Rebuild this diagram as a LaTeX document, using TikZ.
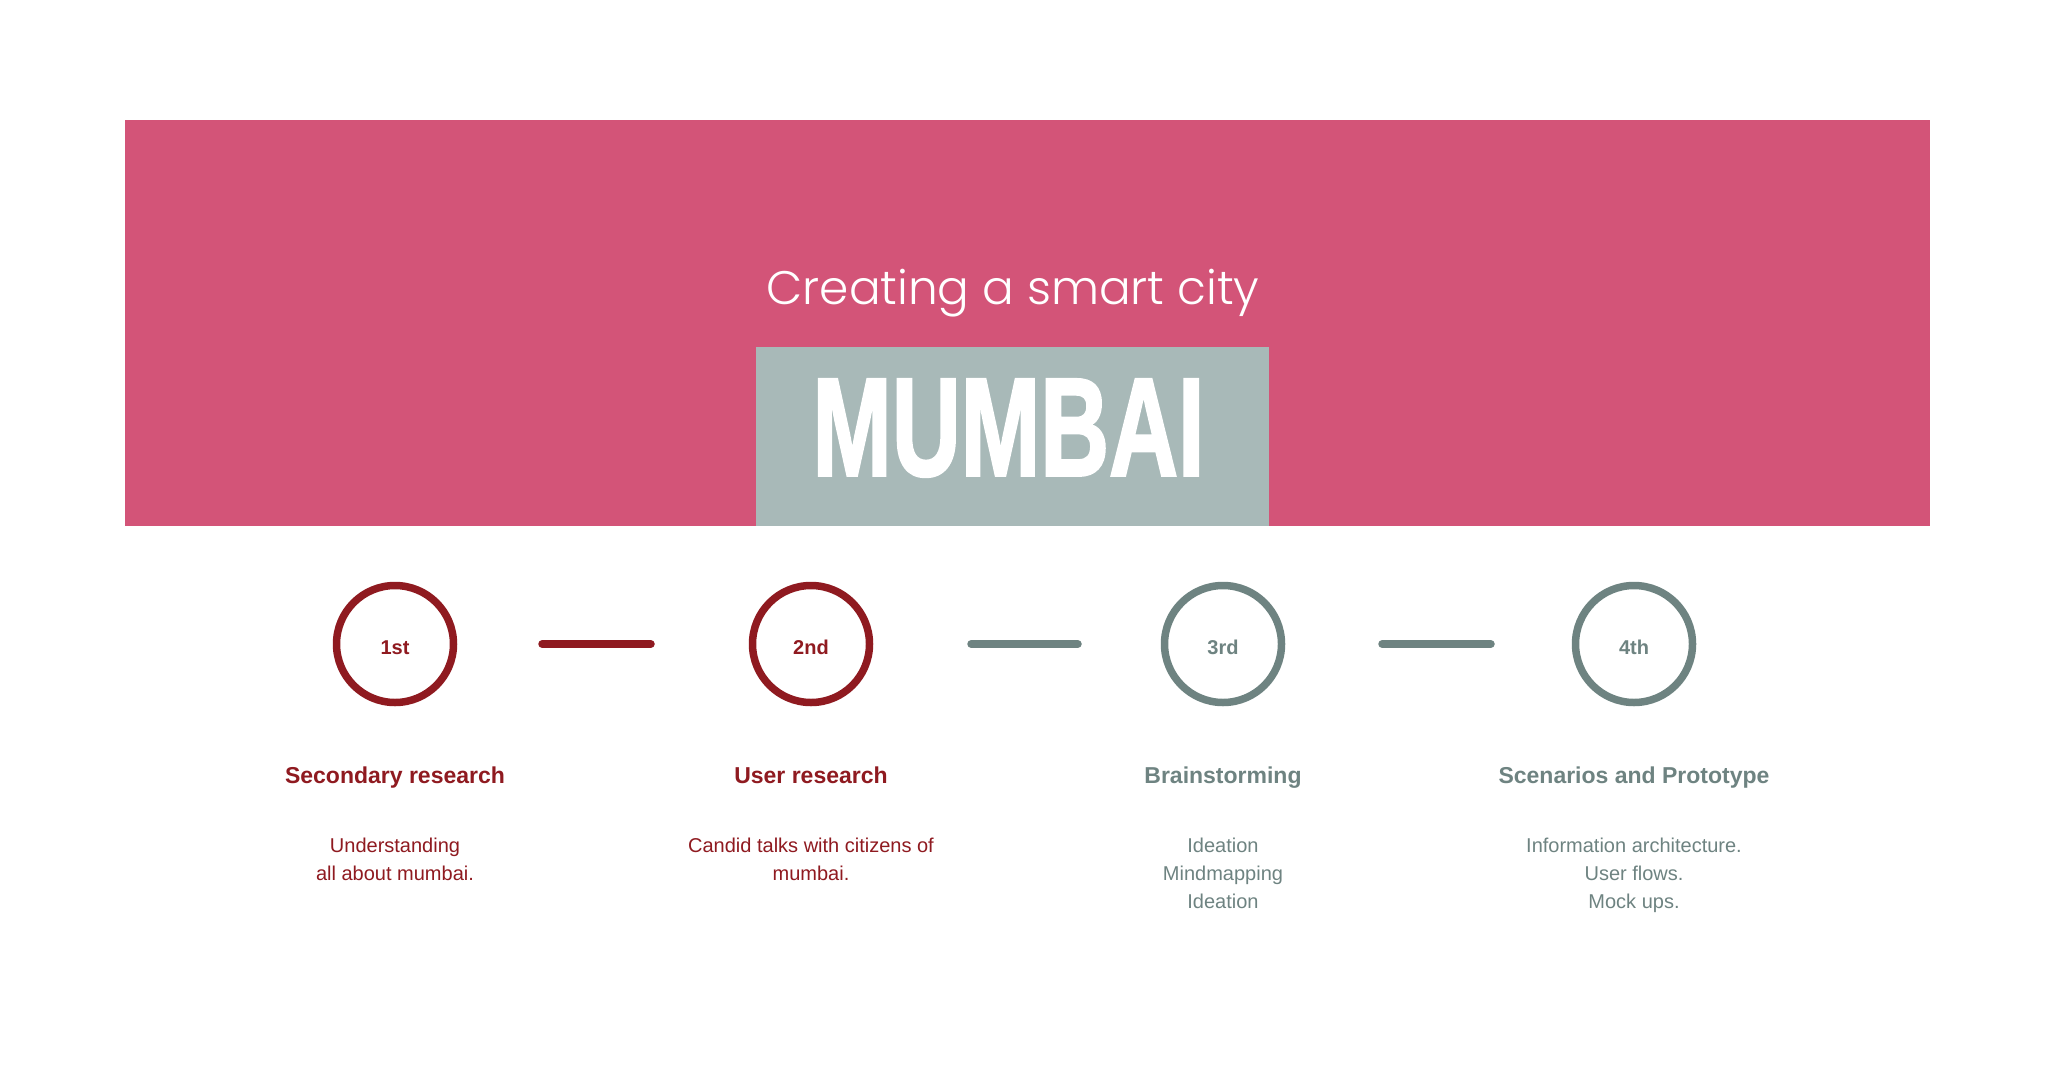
\documentclass[tikz,border=0pt]{standalone}
\usepackage{fontspec}
\setmainfont{Liberation Sans}
\newfontfamily\titlefont{Poppins}[UprightFont={* Light}]
\newfontfamily\bigfont{Liberation Sans}[UprightFont={* Bold}, FakeBold=2]
\definecolor{pinkband}{HTML}{D35478}
\definecolor{boxgray}{HTML}{A8B9B8}
\definecolor{stepred}{HTML}{8F1A20}
\definecolor{stepgray}{HTML}{6E8381}
\newcommand{\steplabel}[1]{\raisebox{-10pt}[0pt][0pt]{#1}}
\begin{document}
\begin{tikzpicture}[x=1pt,y=-1pt,
  ring/.style={circle, draw=#1, text=#1, line width=7.5pt, minimum size=117pt, inner sep=0pt,
    font=\fontsize{20}{24}\selectfont\bfseries},
  conn/.style={draw=#1, line width=8pt, line cap=round},
  headtext/.style={anchor=base, text=#1, font=\fontsize{23}{28}\selectfont\bfseries},
  bodytext/.style={anchor=base, text=#1, font=\fontsize{20}{24}\selectfont}]
\useasboundingbox (0,0) rectangle (2062,1082);
\fill[white] (0,0) rectangle (2062,1082);
% band
\fill[pinkband] (125,120) rectangle (1930,526);
\node[fill=boxgray, anchor=north west, inner sep=0pt, minimum width=513pt, minimum height=179pt] (box) at (756,347) {};
\node[anchor=base, text=white, inner sep=0pt, font=\titlefont\fontsize{47}{52}\selectfont] (title) at (1013,304) {Creating a smart city};
\node[anchor=south, inner sep=0pt, text=white] (mumbai) at (1008.5,477) {\resizebox{392pt}{96pt}{\bigfont MUMBAI}};
% circles
\node[ring=stepred] (c1) at (395,644) {\steplabel{1st}};
\node[ring=stepred] (c2) at (811,644) {\steplabel{2nd}};
\node[ring=stepgray] (c3) at (1223,644) {\steplabel{3rd}};
\node[ring=stepgray] (c4) at (1634,644) {\steplabel{4th}};
\draw[conn=stepred, shorten <=85pt, shorten >=98pt] (c1) -- (c2);
\draw[conn=stepgray, shorten <=98pt, shorten >=83pt] (c2) -- (c3);
\draw[conn=stepgray, shorten <=97pt, shorten >=81pt] (c3) -- (c4);
% headings
\node[headtext=stepred] (h1) at (395,783) {Secondary research};
\node[headtext=stepred] (h2) at (811,783) {User research};
\node[headtext=stepgray] (h3) at (1223,783) {Brainstorming};
\node[headtext=stepgray] (h4) at (1634,783) {Scenarios and Prototype};
% descriptions
\node[bodytext=stepred] (d1a) at (395,852) {Understanding};
\node[bodytext=stepred] (d1b) at (395,880) {all about mumbai.};
\node[bodytext=stepred] (d2a) at (811,852) {Candid talks with citizens of};
\node[bodytext=stepred] (d2b) at (811,880) {mumbai.};
\node[bodytext=stepgray] (d3a) at (1223,852) {Ideation};
\node[bodytext=stepgray] (d3b) at (1223,880) {Mindmapping};
\node[bodytext=stepgray] (d3c) at (1223,908) {Ideation};
\node[bodytext=stepgray] (d4a) at (1634,852) {Information architecture.};
\node[bodytext=stepgray] (d4b) at (1634,880) {User flows.};
\node[bodytext=stepgray] (d4c) at (1634,908) {Mock ups.};
\end{tikzpicture}
\end{document}
